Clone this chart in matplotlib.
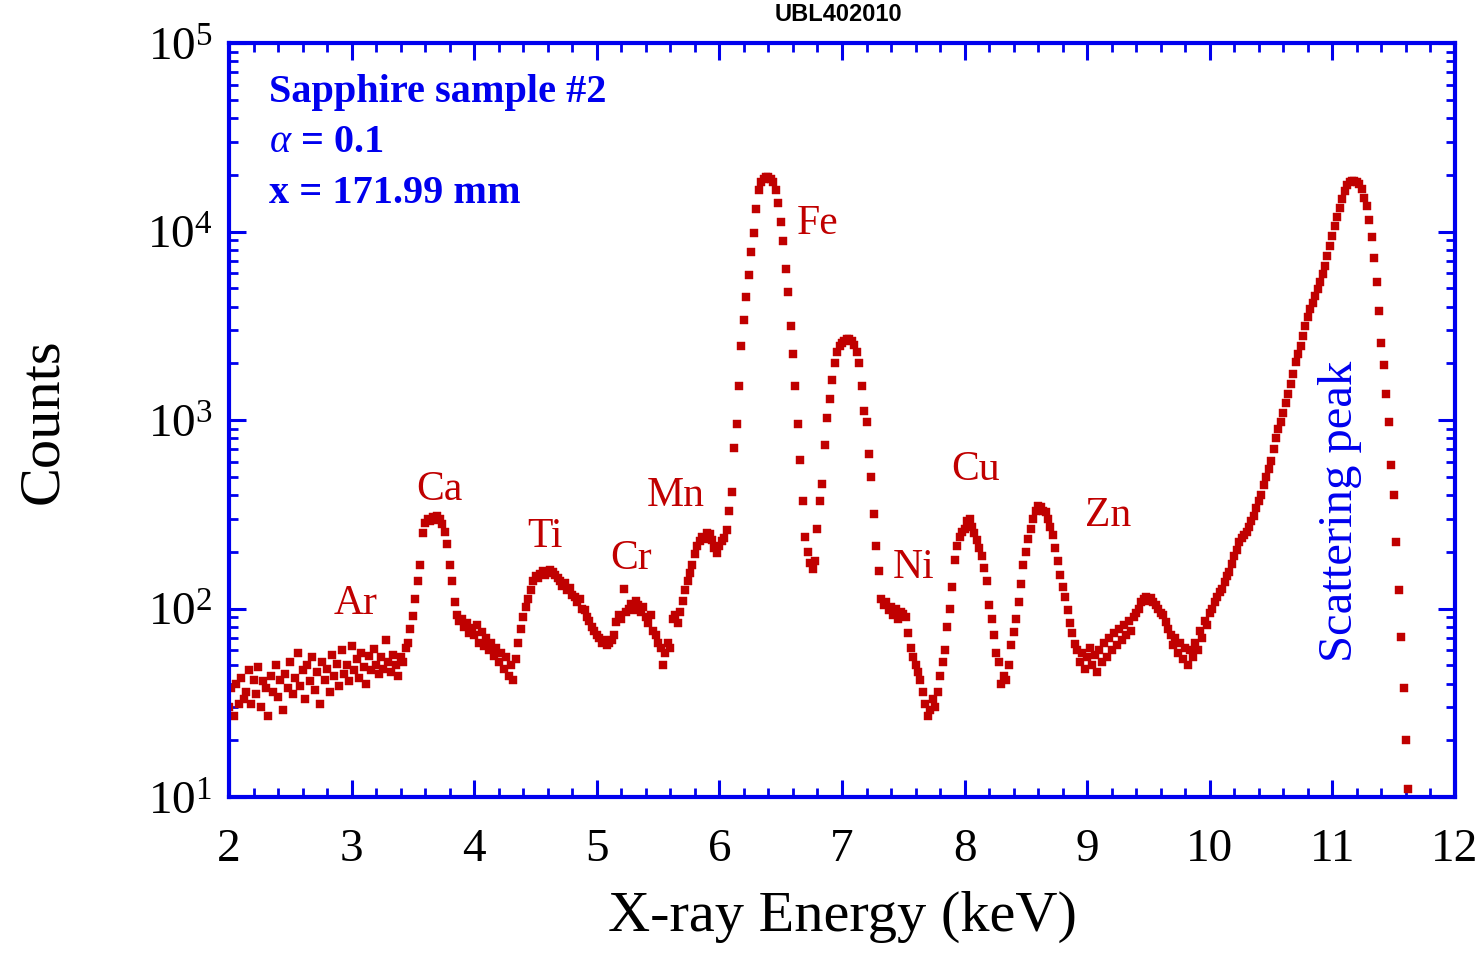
import matplotlib
matplotlib.use("Agg")
from matplotlib import pyplot as plt
from matplotlib.ticker import FixedLocator, LogLocator, NullFormatter

plt.rcParams['font.family'] = ['Liberation Serif', 'DejaVu Serif']
plt.rcParams['mathtext.fontset'] = 'custom'
plt.rcParams['mathtext.rm'] = 'Liberation Serif'
plt.rcParams['mathtext.it'] = 'Liberation Serif:italic'
plt.rcParams['mathtext.bf'] = 'Liberation Serif:bold'

# spectrum, 0.02 keV channels
energy_kev = [
    2.00, 2.02, 2.04, 2.06, 2.08, 2.10, 2.12, 2.14, 2.16, 2.18,
    2.20, 2.22, 2.24, 2.26, 2.28, 2.30, 2.32, 2.34, 2.36, 2.38,
    2.40, 2.42, 2.44, 2.46, 2.48, 2.50, 2.52, 2.54, 2.56, 2.58,
    2.60, 2.62, 2.64, 2.66, 2.68, 2.70, 2.72, 2.74, 2.76, 2.78,
    2.80, 2.82, 2.84, 2.86, 2.88, 2.90, 2.92, 2.94, 2.96, 2.98,
    3.00, 3.02, 3.04, 3.06, 3.08, 3.10, 3.12, 3.14, 3.16, 3.18,
    3.20, 3.22, 3.24, 3.26, 3.28, 3.30, 3.32, 3.34, 3.36, 3.38,
    3.40, 3.42, 3.44, 3.46, 3.48, 3.50, 3.52, 3.54, 3.56, 3.58,
    3.60, 3.62, 3.64, 3.66, 3.68, 3.70, 3.72, 3.74, 3.76, 3.78,
    3.80, 3.82, 3.84, 3.86, 3.88, 3.90, 3.92, 3.94, 3.96, 3.98,
    4.00, 4.02, 4.04, 4.06, 4.08, 4.10, 4.12, 4.14, 4.16, 4.18,
    4.20, 4.22, 4.24, 4.26, 4.28, 4.30, 4.32, 4.34, 4.36, 4.38,
    4.40, 4.42, 4.44, 4.46, 4.48, 4.50, 4.52, 4.54, 4.56, 4.58,
    4.60, 4.62, 4.64, 4.66, 4.68, 4.70, 4.72, 4.74, 4.76, 4.78,
    4.80, 4.82, 4.84, 4.86, 4.88, 4.90, 4.92, 4.94, 4.96, 4.98,
    5.00, 5.02, 5.04, 5.06, 5.08, 5.10, 5.12, 5.14, 5.16, 5.18,
    5.20, 5.22, 5.24, 5.26, 5.28, 5.30, 5.32, 5.34, 5.36, 5.38,
    5.40, 5.42, 5.44, 5.46, 5.48, 5.50, 5.52, 5.54, 5.56, 5.58,
    5.60, 5.62, 5.64, 5.66, 5.68, 5.70, 5.72, 5.74, 5.76, 5.78,
    5.80, 5.82, 5.84, 5.86, 5.88, 5.90, 5.92, 5.94, 5.96, 5.98,
    6.00, 6.02, 6.04, 6.06, 6.08, 6.10, 6.12, 6.14, 6.16, 6.18,
    6.20, 6.22, 6.24, 6.26, 6.28, 6.30, 6.32, 6.34, 6.36, 6.38,
    6.40, 6.42, 6.44, 6.46, 6.48, 6.50, 6.52, 6.54, 6.56, 6.58,
    6.60, 6.62, 6.64, 6.66, 6.68, 6.70, 6.72, 6.74, 6.76, 6.78,
    6.80, 6.82, 6.84, 6.86, 6.88, 6.90, 6.92, 6.94, 6.96, 6.98,
    7.00, 7.02, 7.04, 7.06, 7.08, 7.10, 7.12, 7.14, 7.16, 7.18,
    7.20, 7.22, 7.24, 7.26, 7.28, 7.30, 7.32, 7.34, 7.36, 7.38,
    7.40, 7.42, 7.44, 7.46, 7.48, 7.50, 7.52, 7.54, 7.56, 7.58,
    7.60, 7.62, 7.64, 7.66, 7.68, 7.70, 7.72, 7.74, 7.76, 7.78,
    7.80, 7.82, 7.84, 7.86, 7.88, 7.90, 7.92, 7.94, 7.96, 7.98,
    8.00, 8.02, 8.04, 8.06, 8.08, 8.10, 8.12, 8.14, 8.16, 8.18,
    8.20, 8.22, 8.24, 8.26, 8.28, 8.30, 8.32, 8.34, 8.36, 8.38,
    8.40, 8.42, 8.44, 8.46, 8.48, 8.50, 8.52, 8.54, 8.56, 8.58,
    8.60, 8.62, 8.64, 8.66, 8.68, 8.70, 8.72, 8.74, 8.76, 8.78,
    8.80, 8.82, 8.84, 8.86, 8.88, 8.90, 8.92, 8.94, 8.96, 8.98,
    9.00, 9.02, 9.04, 9.06, 9.08, 9.10, 9.12, 9.14, 9.16, 9.18,
    9.20, 9.22, 9.24, 9.26, 9.28, 9.30, 9.32, 9.34, 9.36, 9.38,
    9.40, 9.42, 9.44, 9.46, 9.48, 9.50, 9.52, 9.54, 9.56, 9.58,
    9.60, 9.62, 9.64, 9.66, 9.68, 9.70, 9.72, 9.74, 9.76, 9.78,
    9.80, 9.82, 9.84, 9.86, 9.88, 9.90, 9.92, 9.94, 9.96, 9.98,
    10.00, 10.02, 10.04, 10.06, 10.08, 10.10, 10.12, 10.14, 10.16, 10.18,
    10.20, 10.22, 10.24, 10.26, 10.28, 10.30, 10.32, 10.34, 10.36, 10.38,
    10.40, 10.42, 10.44, 10.46, 10.48, 10.50, 10.52, 10.54, 10.56, 10.58,
    10.60, 10.62, 10.64, 10.66, 10.68, 10.70, 10.72, 10.74, 10.76, 10.78,
    10.80, 10.82, 10.84, 10.86, 10.88, 10.90, 10.92, 10.94, 10.96, 10.98,
    11.00, 11.02, 11.04, 11.06, 11.08, 11.10, 11.12, 11.14, 11.16, 11.18,
    11.20, 11.22, 11.24, 11.26, 11.28, 11.30, 11.32, 11.34, 11.36, 11.38,
    11.40, 11.42, 11.44, 11.46, 11.48, 11.50, 11.52, 11.54, 11.56, 11.58,
    11.60, 11.62,
]

counts = [
    30, 38, 27, 40, 31, 43, 33, 36, 47, 31,
    42, 35, 49, 30, 41, 38, 27, 44, 36, 50,
    34, 42, 29, 45, 38, 52, 35, 43, 58, 39,
    47, 33, 50, 41, 55, 37, 46, 31, 52, 42,
    48, 36, 57, 44, 51, 39, 60, 45, 50, 41,
    63, 47, 54, 43, 58, 49, 40, 56, 47, 61,
    50, 45, 55, 48, 68, 52, 46, 57, 50, 44,
    55, 52, 62, 66, 78, 91, 112, 140, 170, 250,
    285, 300, 290, 305, 295, 310, 300, 280, 255, 220,
    170, 140, 108, 92, 86, 88, 80, 84, 74, 79,
    72, 82, 66, 75, 63, 70, 60, 66, 56, 62,
    52, 58, 48, 55, 44, 50, 42, 54, 66, 78,
    90, 102, 112, 125, 140, 148, 145, 152, 158, 150,
    155, 160, 156, 150, 145, 140, 132, 136, 125, 128,
    118, 115, 108, 112, 100, 98, 90, 86, 80, 76,
    72, 70, 66, 68, 64, 66, 68, 72, 85, 92,
    88, 127, 96, 100, 106, 98, 110, 104, 96, 102,
    90, 84, 92, 76, 72, 66, 62, 50, 58, 66,
    62, 88, 92, 84, 96, 110, 125, 140, 155, 170,
    195, 215, 228, 240, 235, 250, 248, 232, 210, 198,
    215, 228, 236, 262, 330, 417, 708, 955, 1514, 2455,
    3388, 4467, 5888, 7762, 9772, 13183, 16596, 18408, 19055, 19498,
    19498, 19055, 18197, 16596, 14125, 11220, 8913, 6310, 4786, 3162,
    2239, 1514, 955, 617, 372, 240, 200, 174, 162, 178,
    263, 372, 457, 741, 1023, 1288, 1622, 1995, 2291, 2455,
    2570, 2630, 2692, 2692, 2630, 2512, 2291, 1995, 1514, 1122,
    977, 661, 501, 316, 214, 158, 112, 104, 108, 98,
    102, 92, 100, 88, 96, 94, 90, 74, 62, 55,
    50, 46, 42, 36, 31, 27, 29, 33, 30, 36,
    44, 52, 60, 80, 100, 130, 180, 215, 240, 255,
    265, 290, 300, 270, 250, 232, 210, 190, 165, 140,
    105, 88, 72, 58, 52, 40, 44, 42, 50, 64,
    75, 88, 108, 135, 170, 200, 235, 265, 300, 330,
    350, 345, 330, 325, 300, 270, 245, 210, 178, 150,
    130, 115, 98, 84, 74, 65, 60, 52, 58, 48,
    55, 62, 50, 57, 46, 60, 52, 66, 55, 70,
    60, 74, 64, 78, 68, 82, 72, 86, 76, 90,
    95, 100, 108, 112, 115, 110, 113, 108, 104, 100,
    95, 92, 85, 78, 72, 64, 70, 58, 66, 54,
    62, 50, 60, 55, 66, 60, 76, 70, 86, 82,
    95, 100, 108, 115, 122, 127, 138, 148, 156, 172,
    190, 205, 225, 236, 245, 255, 270, 290, 310, 340,
    370, 400, 450, 497, 550, 608, 700, 800, 900, 980,
    1090, 1230, 1380, 1550, 1750, 2020, 2250, 2480, 2800, 3160,
    3500, 3880, 4200, 4570, 4950, 5370, 5950, 6600, 7400, 8400,
    9500, 10700, 11900, 13300, 14800, 16500, 17600, 18200, 18500, 18600,
    18400, 17800, 16800, 15100, 13700, 11500, 9300, 7200, 5400, 3800,
    2570, 1950, 1380, 980, 575, 400, 224, 126, 71, 38,
    20, 11,
]

# element labels: (text, energy, counts) where the label sits
peak_labels = ["Ar", "Ca", "Ti", "Cr", "Mn", "Fe", "Ni", "Cu", "Zn"]
peak_label_e = [3.03, 3.72, 4.58, 5.28, 5.64, 6.80, 7.58, 8.09, 9.17]
peak_label_c = [107, 430, 243, 187, 400, 11100, 166, 550, 316]

info_lines = ["Sapphire sample #2", r"$\alpha$ = 0.1", "x = 171.99 mm"]

x_ticks = [2, 3, 4, 5, 6, 7, 8, 9, 10, 11, 12]
y_ticks = [1e1, 1e2, 1e3, 1e4, 1e5]
y_tick_labels = [r"$\mathregular{10^{1}}$", r"$\mathregular{10^{2}}$", r"$\mathregular{10^{3}}$",
                 r"$\mathregular{10^{4}}$", r"$\mathregular{10^{5}}$"]

blue = "#0000ee"
red = "#c00000"

fig = plt.figure(figsize=(14.76, 9.54), dpi=100)
ax = fig.add_axes([229 / 1476, 1 - 798 / 954, 1226 / 1476, 754 / 954])

ax.plot(energy_kev, counts, linestyle="none", marker="s", markersize=5.2,
        markerfacecolor=red, markeredgecolor=red, markeredgewidth=0.3)

ax.set_yscale("log")
ax.set_xlim(2, 12)
ax.set_ylim(10, 1e5)

ax.xaxis.set_major_locator(FixedLocator(x_ticks))
ax.xaxis.set_minor_locator(FixedLocator([2 + 0.2 * i for i in range(51)]))
ax.set_xticklabels([str(t) for t in x_ticks])
ax.yaxis.set_major_locator(FixedLocator(y_ticks))
ax.yaxis.set_minor_locator(LogLocator(base=10, subs=range(2, 10)))
ax.yaxis.set_minor_formatter(NullFormatter())
ax.set_yticklabels(y_tick_labels)

for s in ax.spines.values():
    s.set_color(blue)
    s.set_linewidth(3.0)
ax.tick_params(which="both", direction="in", top=True, right=True, color=blue,
               labelcolor="black", labelsize=34)
ax.tick_params(which="major", length=12, width=2.2)
ax.tick_params(which="minor", length=6.5, width=2.0)
ax.tick_params(axis="x", which="major", pad=22)
ax.tick_params(axis="y", which="major", pad=12)

ax.set_xlabel("X-ray Energy (keV)", fontsize=42, labelpad=14)
ax.set_ylabel("Counts", fontsize=42, labelpad=56)

for lab, e, c in zip(peak_labels, peak_label_e, peak_label_c):
    ax.text(e, c, lab, color=red, fontsize=30, ha="center", va="center")

ax.text(11.06, 330, "Scattering peak", color=blue, fontsize=35, rotation=90,
        ha="center", va="center")

for i, line in enumerate(info_lines):
    ax.text(0.033, 0.936 - 0.067 * i, line, transform=ax.transAxes, color=blue,
            fontsize=29, fontweight="bold", ha="left", va="center")

# small run label above the frame
fig.text(0.568, 0.997, "UBL402010", ha="center", va="top",
         fontsize=17, fontweight="bold", family="Liberation Sans")

fig.savefig("out.png", dpi=100, facecolor="white")
